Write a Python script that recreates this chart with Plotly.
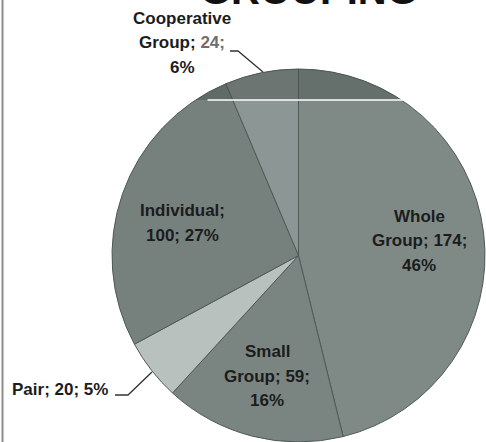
import numpy as np
import plotly.graph_objects as go

# Lesson grouping counts
categories = ["Whole Group", "Small Group", "Pair", "Individual", "Cooperative Group"]
counts = [174, 59, 20, 100, 24]
percents = [46, 16, 5, 27, 6]

W, H = 486, 442
FONT = "Liberation Sans, Arial, sans-serif"


def px(x):
    return x / W


def py(y):
    return 1 - y / H


# pie placement in pixels
cx, cy, r = 298.5, 255.5, 186.5

slice_colors = ["#7f8a87", "#7a8582", "#b9c1be", "#76817e", "#8c9694"]

fig = go.Figure(
    go.Pie(
        labels=categories,
        values=counts,
        sort=False,
        direction="clockwise",
        rotation=0,
        textinfo="none",
        hoverinfo="label+value+percent",
        marker=dict(colors=slice_colors, line=dict(color="#4f5a58", width=1)),
        domain=dict(x=[px(cx - r), px(cx + r)], y=[py(cy + r), py(cy - r)]),
        showlegend=False,
    )
)


def label_lines(i):
    name = categories[i]
    v, p = counts[i], percents[i]
    if name == "Whole Group":
        return ["Whole", f"Group; {v};", f"{p}%"]
    if name == "Small Group":
        return ["Small", f"Group; {v};", f"{p}%"]
    if name == "Individual":
        return ["Individual;", f"{v}; {p}%"]
    if name == "Cooperative Group":
        return ["Cooperative", f"Group; <span style='color:#6e6e6e'>{v};</span>", f"{p}%"]
    return [f"{name}; {v}; {p}%"]


# label centres (pixels) and line spacing
label_pos = {
    "Whole Group": (419, 241),
    "Small Group": (267, 376),
    "Pair": (60, 389),
    "Individual": (182, 223),
    "Cooperative Group": (182, 43),
}
spacing = 24.5

for i, name in enumerate(categories):
    lines = label_lines(i)
    x0, yc = label_pos[name]
    n = len(lines)
    for k, t in enumerate(lines):
        y = yc + (k - (n - 1) / 2) * spacing
        fig.add_annotation(
            x=px(x0), y=py(y), xref="paper", yref="paper",
            text=t, showarrow=False, xanchor="center", yanchor="middle",
            font=dict(family=FONT, size=17, color="#1c1c1c", weight="bold"),
        )

# leader lines for the outside labels
leaders = [
    [(230, 51), (238, 51), (263, 72)],
    [(115, 395), (128, 395), (152, 372)],
]
for pts in leaders:
    fig.add_trace(go.Scatter(
        x=[px(a) for a, _ in pts], y=[py(b) for _, b in pts],
        mode="lines", line=dict(color="#333333", width=1.3),
        hoverinfo="skip", showlegend=False, xaxis="x", yaxis="y",
    ))

# darker band across the top of the disc
band_y = 100
half = np.sqrt(r ** 2 - (band_y - cy) ** 2)
a0 = np.arctan2(band_y - cy, -half)
a1 = np.arctan2(band_y - cy, half)
ang = np.linspace(a0, a1, 60)
path = "M " + " L ".join(f"{px(cx + r * np.cos(a)):.5f},{py(cy + r * np.sin(a)):.5f}" for a in ang) + " Z"
fig.add_shape(type="path", path=path, xref="paper", yref="paper",
              fillcolor="rgba(70,78,76,0.45)", line=dict(width=0))
fig.add_shape(type="line", x0=px(cx - half + 12), x1=px(cx + half + 6), y0=py(band_y), y1=py(band_y),
              xref="paper", yref="paper", line=dict(color="white", width=1.5))

# frame edge on the left
fig.add_shape(type="line", x0=px(2.5), x1=px(2.5), y0=0, y1=1, xref="paper", yref="paper",
              line=dict(color="#8c8c8c", width=2))

# title, mostly above the top edge
fig.add_annotation(
    x=px(309), y=py(-10), xref="paper", yref="paper", text="GROUPING",
    showarrow=False, xanchor="center", yanchor="middle",
    font=dict(family=FONT, size=40, color="#111111", weight="bold"),
)

fig.update_layout(
    width=W, height=H,
    margin=dict(l=0, r=0, t=0, b=0),
    paper_bgcolor="white", plot_bgcolor="rgba(0,0,0,0)",
    xaxis=dict(range=[0, 1], visible=False, fixedrange=True, domain=[0, 1]),
    yaxis=dict(range=[0, 1], visible=False, fixedrange=True, domain=[0, 1]),
)

fig.write_html("out.html")
